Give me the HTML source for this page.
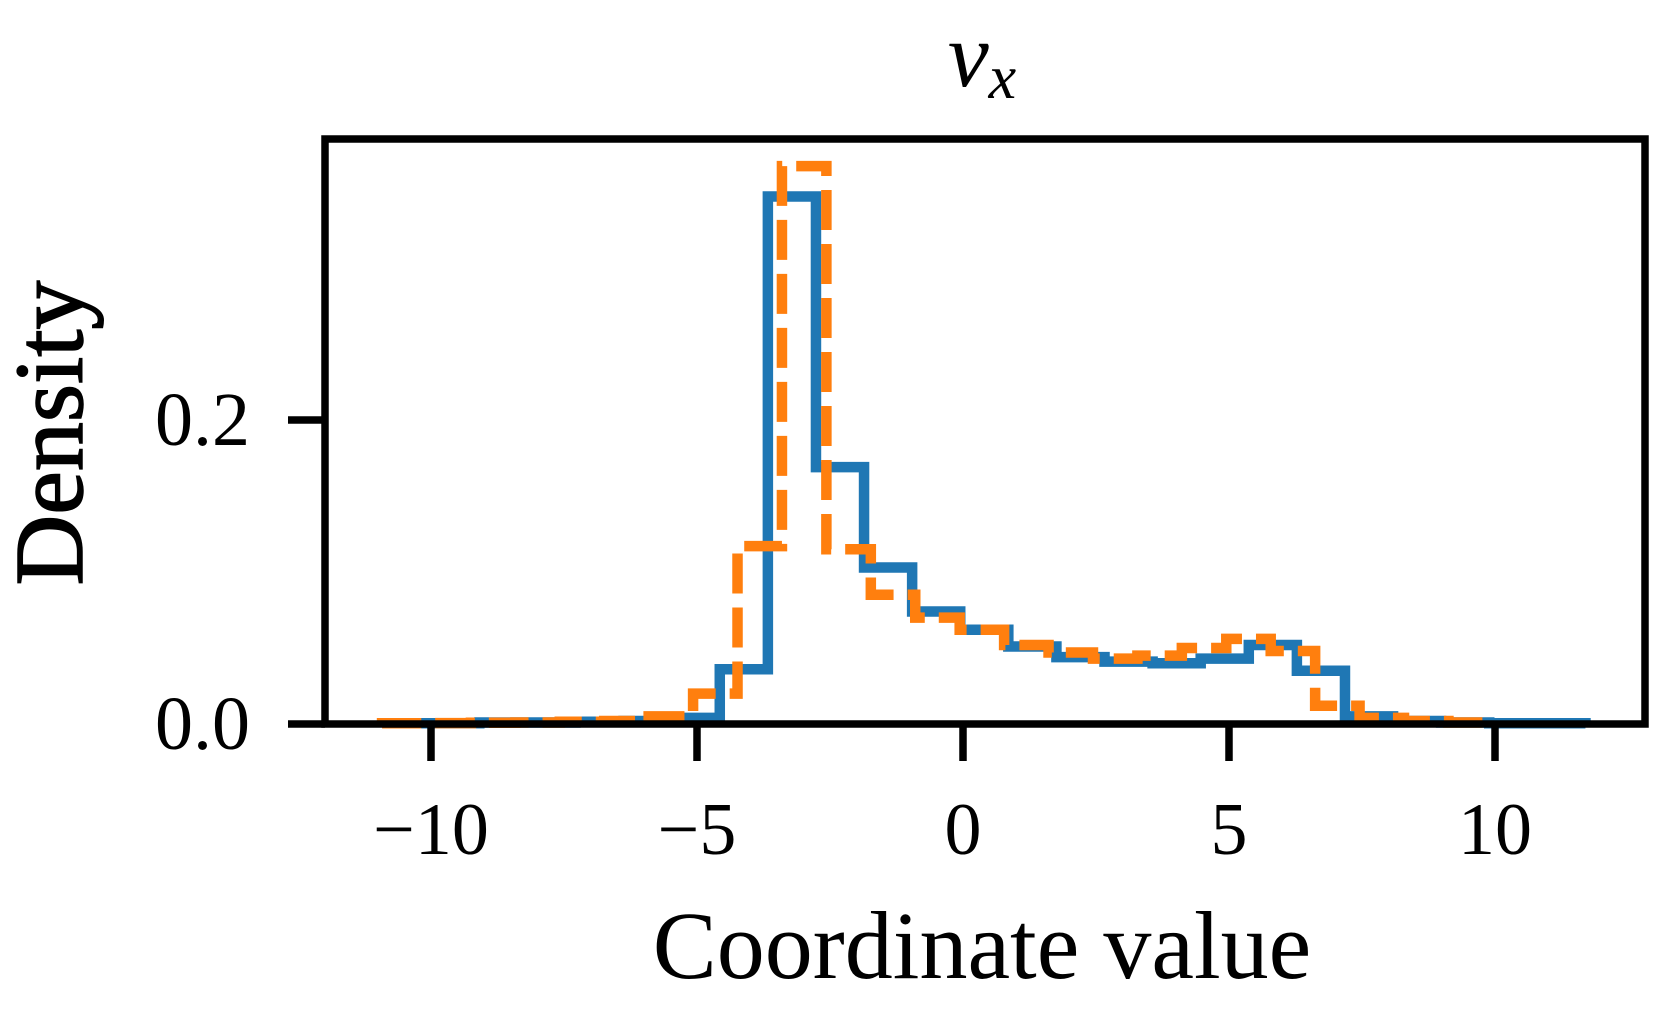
<!DOCTYPE html>
<html><head><meta charset="utf-8"><style>
html,body{margin:0;padding:0;background:#fff;}
svg text{font-family:"Liberation Serif",serif;fill:#000;}
</style></head><body>
<svg id="chart" width="1656" height="1008" viewBox="0 0 1656 1008">
<g id="plot"></g>
<text x="982" y="86" font-size="92" font-style="italic" text-anchor="middle">v<tspan font-size="62" dy="12">x</tspan></text>
<text x="982" y="978" font-size="96" text-anchor="middle">Coordinate value</text>
<text transform="translate(82,433) rotate(-90)" font-size="98" text-anchor="middle" stroke="#000" stroke-width="1.5">Density</text>
</svg>
<script>
const blueStart = -10.9, blueEnd = 11.7;
const blueValues = [0.0005,0.0005,0.001,0.001,0.0015,0.002,0.004,0.036,0.347,0.169,0.103,0.074,0.062,0.051,0.044,0.041,0.040,0.043,0.052,0.035,0.005,0.002,0.001,0.0005,0.0005];
const orangeStart = -10.92, orangeEnd = 9.96;
const orangeValues = [0.0005,0.0006,0.0008,0.001,0.0015,0.002,0.005,0.020,0.117,0.367,0.115,0.085,0.070,0.062,0.052,0.047,0.043,0.045,0.050,0.056,0.048,0.012,0.004,0.002,0.001];
const xTicks = [-10,-5,0,5,10];
const xTickLabels = ["\u221210","\u22125","0","5","10"];
const yTicks = [0.0,0.2];
const yTickLabels = ["0.0","0.2"];

const L=325,R=1645,T=139,B=724;
const X = v => 963 + v*53.2;
const Y = v => 724 - v*1520;
const NS="http://www.w3.org/2000/svg";
const g=document.getElementById('plot');
function mk(t,a){const e=document.createElementNS(NS,t);for(const k in a)e.setAttribute(k,a[k]);g.appendChild(e);return e;}
function stepPath(start,end,vals){
  const w=(end-start)/vals.length;
  let d="M"+X(start)+","+Y(0);
  vals.forEach((v,i)=>{d+=" L"+X(start+i*w)+","+Y(v)+" L"+X(start+(i+1)*w)+","+Y(v);});
  d+=" L"+X(end)+","+Y(0);
  return d;
}
const bp=mk('path',{d:stepPath(blueStart,blueEnd,blueValues),fill:'none',stroke:'#1f77b4','stroke-width':10.5,'stroke-linejoin':'miter'});


const op=mk('path',{d:stepPath(orangeStart,orangeEnd,orangeValues),fill:'none',stroke:'#ff7f0e','stroke-width':10.5,'stroke-dasharray':'40 14'});


const fr=mk('rect',{x:L,y:T,width:R-L,height:B-T,fill:'none',stroke:'#000','stroke-width':7.5});


xTicks.forEach((v,i)=>{
  const t=mk('line',{x1:X(v),x2:X(v),y1:B,y2:B+37,stroke:'#000','stroke-width':7.5});
  
  
  const s=mk('text',{x:X(v),y:854,'font-size':74,'text-anchor':'middle'});
  s.textContent=xTickLabels[i];
  
  
});
yTicks.forEach((v,i)=>{
  const t=mk('line',{x1:L-37,x2:L,y1:Y(v),y2:Y(v),stroke:'#000','stroke-width':7.5});
  
  
  const s=mk('text',{x:250,y:Y(v)+25,'font-size':76,'text-anchor':'end'});
  s.textContent=yTickLabels[i];
  
  
});
</script>
</body></html>
